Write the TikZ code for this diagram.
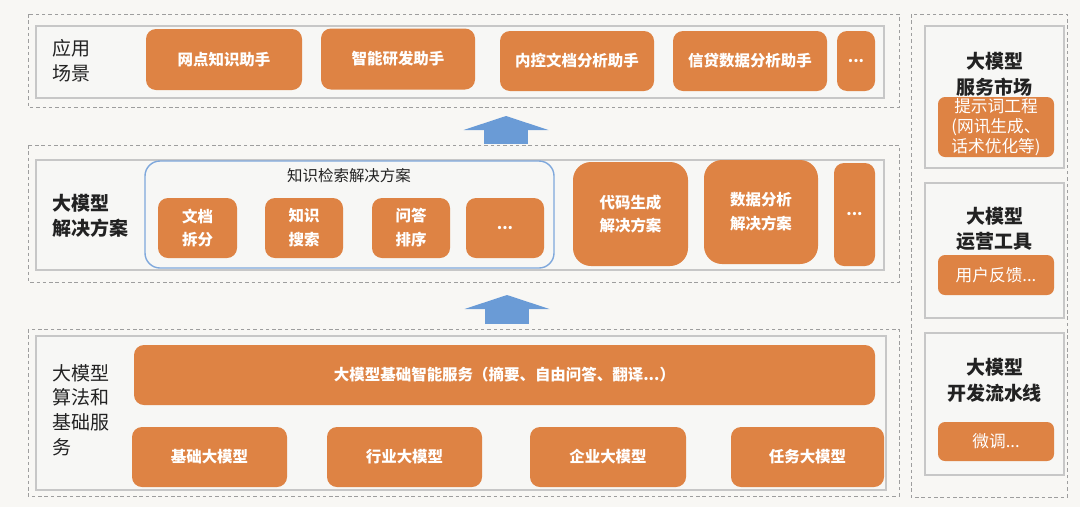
\documentclass[tikz,border=0pt]{standalone}
\usepackage{fontspec}
\setmainfont{Noto Sans CJK SC}
\usetikzlibrary{arrows.meta}
\definecolor{orng}{HTML}{DE8344}
\definecolor{bgcol}{HTML}{F8F7F4}
\definecolor{panelcol}{HTML}{F7F7F5}
\definecolor{arrblue}{HTML}{6A9BD6}
\definecolor{frameblue}{HTML}{7FA8DC}
\definecolor{inkcol}{HTML}{222222}
\begin{document}
\begin{tikzpicture}[x=0.2mm, y=-0.2mm, every node/.style={text=inkcol},
  obox/.style={fill=orng, rounded corners=2mm, text=white, align=center,
    font=\fontsize{8.8pt}{13.6pt}\selectfont\bfseries},
  sbox/.style={fill=orng, rounded corners=1.4mm, text=white, align=center,
    font=\fontsize{9.5pt}{11.3pt}\selectfont},
  sz/.style 2 args={minimum width=#1*0.2mm, minimum height=#2*0.2mm, inner sep=0pt},
  dashbox/.style={draw=black!38, dash pattern=on 2pt off 1.6pt, line width=0.5pt},
  panel/.style={draw=black!22, line width=1pt, fill=panelcol},
  lbl/.style={anchor=west, align=left, font=\fontsize{10.8pt}{14pt}\selectfont},
  ttl/.style={align=center, font=\fontsize{10.8pt}{14.7pt}\selectfont\bfseries},
  uparrow/.style={draw=arrblue, line width=8.8mm,
    -{Triangle[width=17mm, length=2.8mm, line width=0pt]}}]
  \useasboundingbox (0,0) rectangle (1080,507);
  \fill[bgcol] (0,0) rectangle (1080,507);
  % Layer 1: application scenarios
  \draw[dashbox] (28,14) rectangle (899,107);
  \draw[panel] (36,26) rectangle (884,98);
  \node[lbl] (applbl) at (46,61) {应用\\场景};
  \node[obox, sz={156}{61}] (wdzs) at (224,59.5) {网点知识助手};
  \node[obox, sz={154}{61}] (znyf) at (398,59) {智能研发助手};
  \node[obox, sz={154}{60}] (nkwd) at (577,61) {内控文档分析助手};
  \node[obox, sz={154}{60}] (xdsj) at (750,61) {信贷数据分析助手};
  \node[obox, sz={38}{60}] (appmore) at (856,61) {...};
  % arrow 2 -> 1
  \coordinate (a1s) at (506,144);
  \coordinate (a1e) at (506,116);
  \draw[uparrow] (a1s) -- (a1e);
  % Layer 2: solutions
  \draw[dashbox] (28,145) rectangle (899,282);
  \draw[panel] (36,160) rectangle (884,270);
  \node[lbl, font=\fontsize{10.8pt}{14pt}\selectfont\bfseries] (sollbl) at (46,216) {大模型\\解决方案};
  \node[draw=frameblue, line width=0.8pt, rounded corners=3mm, sz={409}{107}] (kbox) at (349.5,214.5) {};
  \node[font=\fontsize{8.8pt}{11pt}\selectfont] (ktitle) at (349,176) {知识检索解决方案};
  \node[obox, sz={79}{60}] (wdcf) at (197.5,228) {文档\\拆分};
  \node[obox, sz={78}{60}] (zsss) at (304,228) {知识\\搜索};
  \node[obox, sz={78}{60}] (wdpx) at (411,228) {问答\\排序};
  \node[obox, sz={78}{60}] (kmore) at (505,228) {...};
  \node[obox, rounded corners=3.6mm, sz={115}{104}] (dmsc) at (630.5,214) {代码生成\\解决方案};
  \node[obox, rounded corners=3.6mm, sz={114}{104}] (sjfx) at (761,212) {数据分析\\解决方案};
  \node[obox, sz={41}{103}] (solmore) at (854.5,214.5) {...};
  % arrow 3 -> 2
  \coordinate (a2s) at (507,324);
  \coordinate (a2e) at (507,295);
  \draw[uparrow] (a2s) -- (a2e);
  % Layer 3: algorithms and base services
  \draw[dashbox] (28,329) rectangle (899,496);
  \draw[panel] (36,336) rectangle (886,490);
  \node[lbl] (baselbl) at (46,410) {大模型\\算法和\\基础服\\务};
  \node[obox, sz={741}{60}] (jczn) at (504.5,375) {大模型基础智能服务（摘要、自由问答、翻译...）};
  \node[obox, sz={155}{60}] (jcdm) at (209.5,457) {基础大模型};
  \node[obox, sz={155}{60}] (hydm) at (404.5,457) {行业大模型};
  \node[obox, sz={156}{60}] (qydm) at (608,457) {企业大模型};
  \node[obox, sz={153}{60}] (rwdm) at (807.5,457) {任务大模型};
  % Right column: tools
  \draw[dashbox] (911,14) rectangle (1067,497);
  \draw[panel] (925,26) rectangle (1064,168);
  \node[ttl] (mkttl) at (994.5,74) {大模型\\服务市场};
  \node[sbox, sz={116}{60}] (tsc) at (996,127) {提示词工程\\(网讯生成、\\话术优化等)};
  \draw[panel] (925,183) rectangle (1064,318);
  \node[ttl] (yyttl) at (994.5,229) {大模型\\运营工具};
  \node[sbox, sz={116}{40}] (yhfk) at (996,275) {用户反馈...};
  \draw[panel] (925,333) rectangle (1064,475);
  \node[ttl] (lsxttl) at (994.5,380) {大模型\\开发流水线};
  \node[sbox, sz={116}{39}] (wt) at (996,441.5) {微调...};
\end{tikzpicture}
\end{document}
